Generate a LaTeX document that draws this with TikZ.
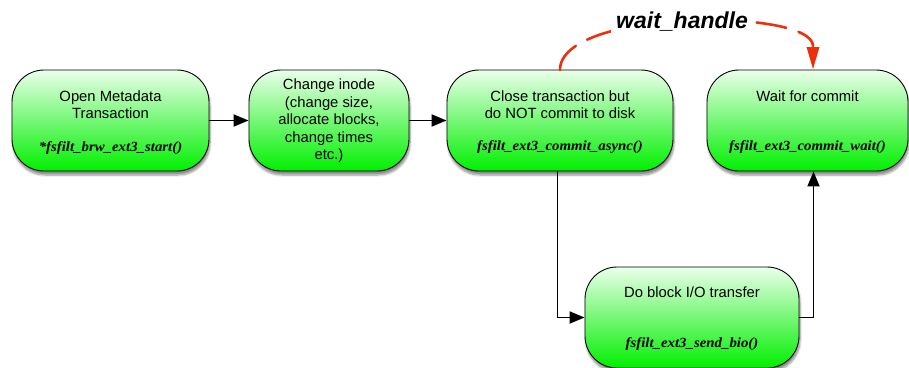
\documentclass[tikz,border=0pt]{standalone}
\usepackage{fontspec}
\setmainfont{Liberation Sans}
\newfontfamily\codefont[FakeStretch=1.06]{Liberation Serif}
\usetikzlibrary{arrows.meta,shadows.blur}
\definecolor{boxtop}{RGB}{234,255,234}
\definecolor{boxbot}{RGB}{0,240,0}
\definecolor{handlered}{RGB}{236,48,12}
\tikzset{
  pill/.style={draw=black, line width=0.9pt, rounded corners=32pt,
    top color=boxtop, bottom color=boxbot, minimum height=101pt,
    blur shadow={shadow blur steps=6, shadow xshift=1pt, shadow yshift=-4pt, shadow opacity=45}},
  lbl/.style={font=\fontsize{14.8}{17.5}\selectfont, align=center, inner sep=0pt},
  code/.style={font=\codefont\bfseries\itshape\fontsize{14}{16}\selectfont, inner sep=0pt},
  flow/.style={line width=1.9pt, -{Triangle[length=15pt,width=12pt]}},
  handle/.style={draw=handlered, line width=2.6pt, dash pattern=on 30pt off 13pt, line cap=round},
}
\begin{document}
\begin{tikzpicture}[x=1pt,y=-1pt]
\useasboundingbox (0,0) rectangle (909,367);
% boxes
\node[pill, minimum width=197pt] (b1) at (110.5,120.5) {};
\node[pill, minimum width=160pt] (b2) at (329,120.5) {};
\node[pill, minimum width=226pt] (b3) at (560,120.5) {};
\node[pill, minimum width=201pt] (b4) at (807.5,120.5) {};
\node[pill, minimum width=214pt] (b5) at (692,317.5) {};
% texts
\node[lbl] (t1) at (110.5,104.5) {Open Metadata\\Transaction};
\node[code] (c1) at (110.5,148) {*fsfilt\_brw\_ext3\_start()};
\node[lbl] (t2) at (329,121) {Change inode\\(change size,\\allocate blocks,\\change times\\etc.)};
\node[lbl] (t3) at (560,104.5) {Close transaction but\\do NOT commit to disk};
\node[code] (c3) at (560,147.5) {fsfilt\_ext3\_commit\_async()};
\node[lbl] (t4) at (807.5,96) {Wait for commit};
\node[code] (c4) at (807.5,147.5) {fsfilt\_ext3\_commit\_wait()};
\node[lbl] (t5) at (692,292) {Do block I/O transfer};
\node[code] (c5) at (692,344) {fsfilt\_ext3\_send\_bio()};
% connectors
\draw[flow] (b1.east) -- (b2.west);
\draw[flow] (b2.east) -- (b3.west);
\coordinate (k1) at (557.5,317.5);
\coordinate (k2) at (813.5,317.5);
\draw[flow] (b3.south -| k1) -- (k1) -- (b5.west);
\draw[flow] (b5.east) -- (k2) -- (b4.south -| k2);
% wait handle
\coordinate (h1) at (560,70);
\coordinate (h2) at (813,68);
\draw[handle] (h1) .. controls (560,8) and (813,8) .. (813,46);
\fill[handlered] (813,69) -- (806.5,47) -- (819.5,47) -- cycle;
\node[font=\fontsize{23}{27}\selectfont\bfseries\itshape, fill=white, inner xsep=5pt, inner ysep=1pt] (wh) at (682,22) {wait\_handle};
\end{tikzpicture}
\end{document}
